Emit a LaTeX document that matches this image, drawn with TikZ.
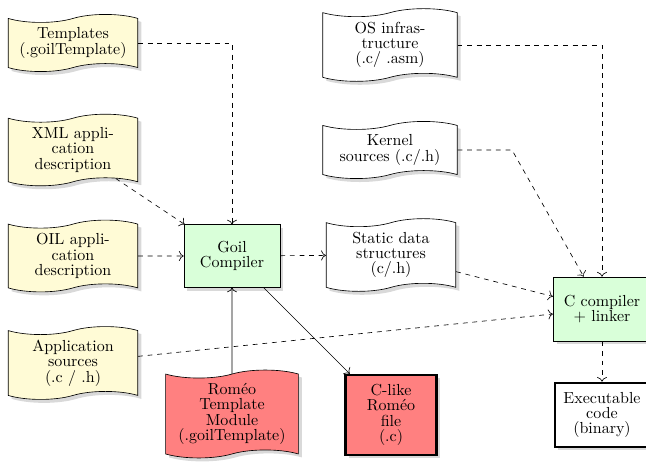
\documentclass[tikz,border=0pt]{standalone}
\usetikzlibrary{shapes.symbols,shadows,arrows.meta}
\definecolor{docyellow}{RGB}{255,251,214}
\definecolor{procgreen}{RGB}{217,255,217}
\definecolor{romeored}{RGB}{255,128,128}
\begin{document}
\begin{tikzpicture}[x=0.625pt,y=-0.625pt,
  >={To[scale=1.2]},
  every node/.style={font=\fontsize{10}{9.6}\selectfont, align=center},
  shad/.style={drop shadow={opacity=0.3}},
  doc/.style={tape, draw, fill=docyellow, shad, minimum width=81pt, inner xsep=3pt},
  wdoc/.style={doc, fill=white},
  rdoc/.style={doc, fill=romeored},
  proc/.style={rectangle, draw, fill=procgreen, shad, minimum width=60pt, minimum height=39pt},
  outbox/.style={rectangle, draw, line width=1.6pt, shad, minimum width=57pt},
  dflow/.style={->, dashed},
  sflow/.style={->}
]
\useasboundingbox (0,0) rectangle (646,463);

\node[doc] (tmpl) at (73,43) {Templates\\(.goilTemplate)};
\node[doc] (xml) at (73,150) {XML appli-\\cation\\description};
\node[doc] (oil) at (73,256) {OIL appli-\\cation\\description};
\node[doc] (app) at (73,363) {Application\\sources\\(.c / .h)};
\node[proc] (goil) at (232,256) {Goil\\Compiler};
\node[rdoc, minimum width=83pt] (rtm) at (232,414) {Rom\'eo\\Template\\Module\\(.goilTemplate)};
\node[wdoc, minimum width=84pt] (os) at (390,45) {OS infras-\\tructure\\(.c/ .asm)};
\node[wdoc, minimum width=84pt] (kern) at (390,150) {Kernel\\sources (.c/.h)};
\node[wdoc] (stat) at (391,255) {Static data\\structures\\(c/.h)};
\node[outbox, fill=romeored, minimum height=50pt] (clike) at (391,415) {C-like\\Rom\'eo\\file\\(.c)};
\node[proc, minimum width=61pt, minimum height=40pt] (cc) at (602,309) {C compiler\\+ linker};
\node[outbox, fill=white, minimum width=59pt, minimum height=40pt] (exe) at (602,415) {Executable\\code\\(binary)};

\coordinate (kbend) at (512,150);

\draw[dflow] (tmpl.east) -| (goil.north);
\draw[dflow] (xml) -- (goil);
\draw[dflow] (oil) -- (goil);
\draw[dflow] (goil) -- (stat);
\draw[sflow] (rtm) -- (goil);
\draw[sflow] (goil) -- (clike);
\draw[dflow] (app) -- (cc);
\draw[dflow] (stat) -- (cc);
\draw[dflow] (kern.east) -- (kbend) -- (cc);
\draw[dflow] (os.east) -| (cc.north);
\draw[dflow] (cc) -- (exe);
\end{tikzpicture}
\end{document}
